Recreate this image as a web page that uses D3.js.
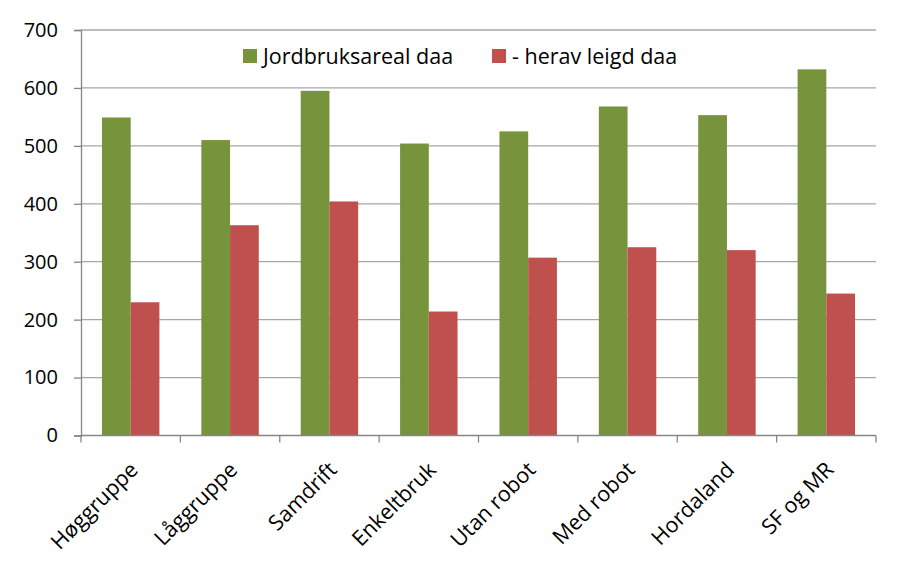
<!DOCTYPE html>
<html><head><meta charset="utf-8">
<script src="https://cdn.jsdelivr.net/npm/d3@7"></script>
<style>body{margin:0;background:#fff}svg{display:block}text{font-family:"Open Sans",Lato,sans-serif;fill:#000}</style>
</head><body><svg id="c" width="902" height="579"></svg>
<script>
const categories = ["Høggruppe","Låggruppe","Samdrift","Enkeltbruk","Utan robot","Med robot","Hordaland","SF og MR"];
const seriesNames = ["Jordbruksareal daa","- herav leigd daa"];
const jordbruk = [549, 510, 595, 504, 525, 568, 553, 632];
const leigd = [230, 363, 404, 214, 307, 325, 320, 245];
const yTicks = [0,100,200,300,400,500,600,700];
const colors = ["#77933C","#C0504D"];

const svg = d3.select("#c");
const L = 81, R = 876, T = 30, B = 435.5;
const y = d3.scaleLinear().domain([0,700]).range([B,T]);
const x0 = d3.scaleBand().domain(categories).range([L,R]).padding(0);
const x1 = d3.scaleBand().domain([0,1]).range([0,x0.bandwidth()]).paddingInner(0).paddingOuter(0.73);

// gridlines
svg.append("g").selectAll("line").data(yTicks.filter(d=>d>0)).join("line")
  .attr("x1",L).attr("x2",R).attr("y1",d=>y(d)).attr("y2",d=>y(d))
  .attr("stroke","#A6A6A6").attr("stroke-width",1.3);

// y axis
const ya = svg.append("g").attr("transform",`translate(${L},0)`)
  .call(d3.axisLeft(y).tickValues(yTicks).tickSize(7).tickPadding(16));
ya.select(".domain").attr("stroke","#868686").attr("stroke-width",1.3);
ya.selectAll(".tick line").attr("stroke","#868686").attr("stroke-width",1.3);
ya.selectAll("text").style("font-size","20px").attr("fill","#000");

// bars
const data = categories.map((c,i)=>({c, v:[jordbruk[i], leigd[i]]}));
const g = svg.append("g").selectAll("g").data(data).join("g")
  .attr("transform",d=>`translate(${x0(d.c)},0)`);
g.selectAll("rect").data(d=>d.v.map((v,k)=>({v,k}))).join("rect")
  .attr("x",d=>x1(d.k)).attr("width",x1.bandwidth())
  .attr("y",d=>y(d.v)).attr("height",d=>B-y(d.v))
  .attr("fill",d=>colors[d.k]);

// x axis
const xa = svg.append("g").attr("transform",`translate(0,${B})`);
xa.append("line").attr("x1",L).attr("x2",R).attr("stroke","#868686").attr("stroke-width",1.3);
const edges = categories.map(c=>x0(c)).concat([R]);
xa.selectAll("line.t").data(edges).join("line").attr("class","t")
  .attr("x1",d=>d).attr("x2",d=>d).attr("y1",0).attr("y2",7)
  .attr("stroke","#868686").attr("stroke-width",1.3);
xa.selectAll("text").data(categories).join("text")
  .attr("transform",d=>`translate(${x0(d)+x0.bandwidth()/2-2},${25}) rotate(-45)`)
  .attr("text-anchor","end").attr("dy","0.7em")
  .style("font-size","21.5px").text(d=>d);

// legend
const leg = svg.append("g");
const legX = [243, 492];
seriesNames.forEach((s,i)=>{
  leg.append("rect").attr("x",legX[i]).attr("y",49).attr("width",14).attr("height",14).attr("fill",colors[i]);
  leg.append("text").attr("x",legX[i]+20).attr("y",63.5).style("font-size","21.5px").text(s);
});
</script></body></html>
